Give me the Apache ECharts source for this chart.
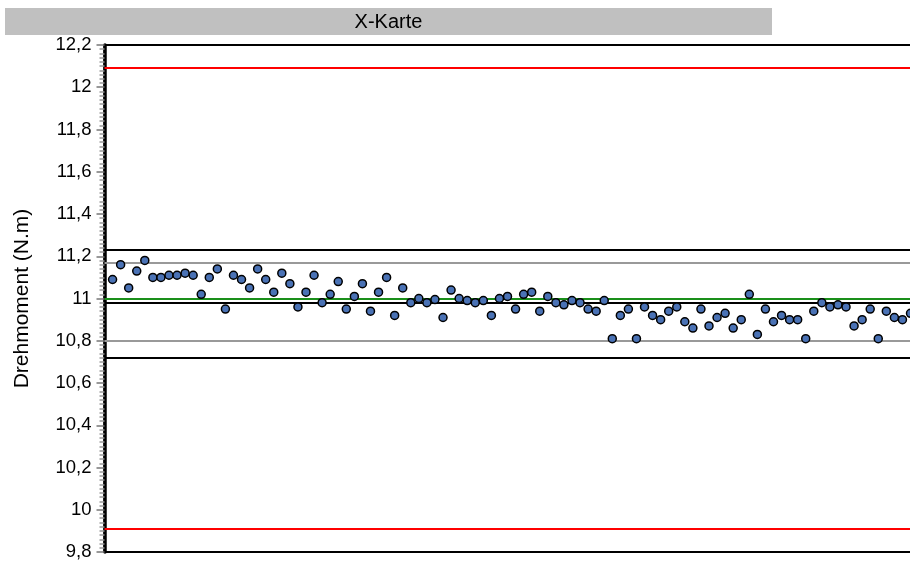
<!DOCTYPE html>
<html>
<head>
<meta charset="utf-8">
<script src="https://cdn.jsdelivr.net/npm/echarts@6/dist/echarts.min.js"></script>
<style>
html,body{margin:0;padding:0;overflow:hidden;background:#fff;width:910px;height:563px;}
#chart{width:1000px;height:563px;}
</style>
</head>
<body>
<div id="chart"></div>
<script>
// ---- data ----
const titleText = "X-Karte";
const yAxisName = "Drehmoment (N.m)";
const sampleIndex = Array.from({length: 100}, (_, i) => i + 1);
const sampleValues = [
  11.09,11.16,11.05,11.13,11.18,11.10,11.10,11.11,11.11,11.12,
  11.11,11.02,11.10,11.14,10.95,11.11,11.09,11.05,11.14,11.09,
  11.03,11.12,11.07,10.96,11.03,11.11,10.98,11.02,11.08,10.95,
  11.01,11.07,10.94,11.03,11.10,10.92,11.05,10.98,11.00,10.98,
  10.995,10.91,11.04,11.00,10.99,10.98,10.99,10.92,11.00,11.01,
  10.95,11.02,11.03,10.94,11.01,10.98,10.97,10.99,10.98,10.95,
  10.94,10.99,10.81,10.92,10.95,10.81,10.96,10.92,10.90,10.94,
  10.96,10.89,10.86,10.95,10.87,10.91,10.93,10.86,10.90,11.02,
  10.83,10.95,10.89,10.92,10.90,10.90,10.81,10.94,10.98,10.96,
  10.97,10.96,10.87,10.90,10.95,10.81,10.94,10.91,10.90,10.93
];
const controlLimits = [12.086, 9.91];      // red
const centerLine = [10.997];               // green
const toleranceLines = [11.234, 10.980, 10.724]; // black
const warnLines = [11.167, 10.804];        // gray
const yMin = 9.8, yMax = 12.2, yStep = 0.2;

const font = "'Liberation Sans', Arial, sans-serif";
const chart = echarts.init(document.getElementById('chart'), null, {renderer: 'canvas'});

function hl(vals, color, width) {
  return vals.map(v => ({yAxis: v, lineStyle: {color: color, width: width, type: 'solid'}}));
}

const step = 8.06;
const xMax = 102;

chart.setOption({
  animation: false,
  backgroundColor: '#fff',
  graphic: [
    {type: 'rect', shape: {x: 5, y: 8, width: 767, height: 27}, style: {fill: '#c0c0c0'}, z: 0},
    {type: 'text', x: 388.5, y: 22, style: {text: titleText, font: '20px ' + font, fill: '#000', textAlign: 'center', textVerticalAlign: 'middle'}, z: 1}
  ],
  grid: {left: 104.5, top: 45, width: xMax * step, height: 507, show: true, borderColor: '#000', borderWidth: 2, backgroundColor: 'transparent'},
  xAxis: {
    type: 'value', min: 0, max: xMax,
    axisLine: {show: true, lineStyle: {color: '#000', width: 2}},
    axisTick: {show: false}, axisLabel: {show: false}, splitLine: {show: false}
  },
  yAxis: {
    type: 'value', min: yMin, max: yMax, interval: yStep,
    name: yAxisName, nameLocation: 'middle', nameRotate: 90, nameGap: 72,
    nameTextStyle: {fontFamily: font, fontSize: 21, color: '#000'},
    axisLine: {show: true, onZero: false, lineStyle: {color: '#000', width: 3.5}},
    axisTick: {show: true, length: 8, lineStyle: {color: '#777', width: 1.5}},
    minorTick: {show: true, splitNumber: 10, length: 5, lineStyle: {color: '#999', width: 1.5}},
    axisLabel: {margin: 13, fontFamily: font, fontSize: 18.5, color: '#000',
      formatter: v => String(Math.round(v * 10) / 10).replace('.', ',')},
    splitLine: {show: false}
  },
  series: [{
    type: 'scatter',
    data: sampleIndex.map((x, i) => [x, sampleValues[i]]),
    symbol: 'circle', symbolSize: 8,
    itemStyle: {color: '#4a72b5', borderColor: '#000', borderWidth: 1.5, opacity: 1},
    z: 5,
    markLine: {
      silent: true, symbol: 'none', label: {show: false}, animation: false,
      z: 2,
      data: [].concat(
        hl(warnLines, '#999999', 2),
        hl(toleranceLines, '#000000', 2),
        hl(centerLine, '#1a8f1a', 2),
        hl(controlLimits, '#ff0000', 2)
      )
    }
  }]
});
</script>
</body>
</html>
